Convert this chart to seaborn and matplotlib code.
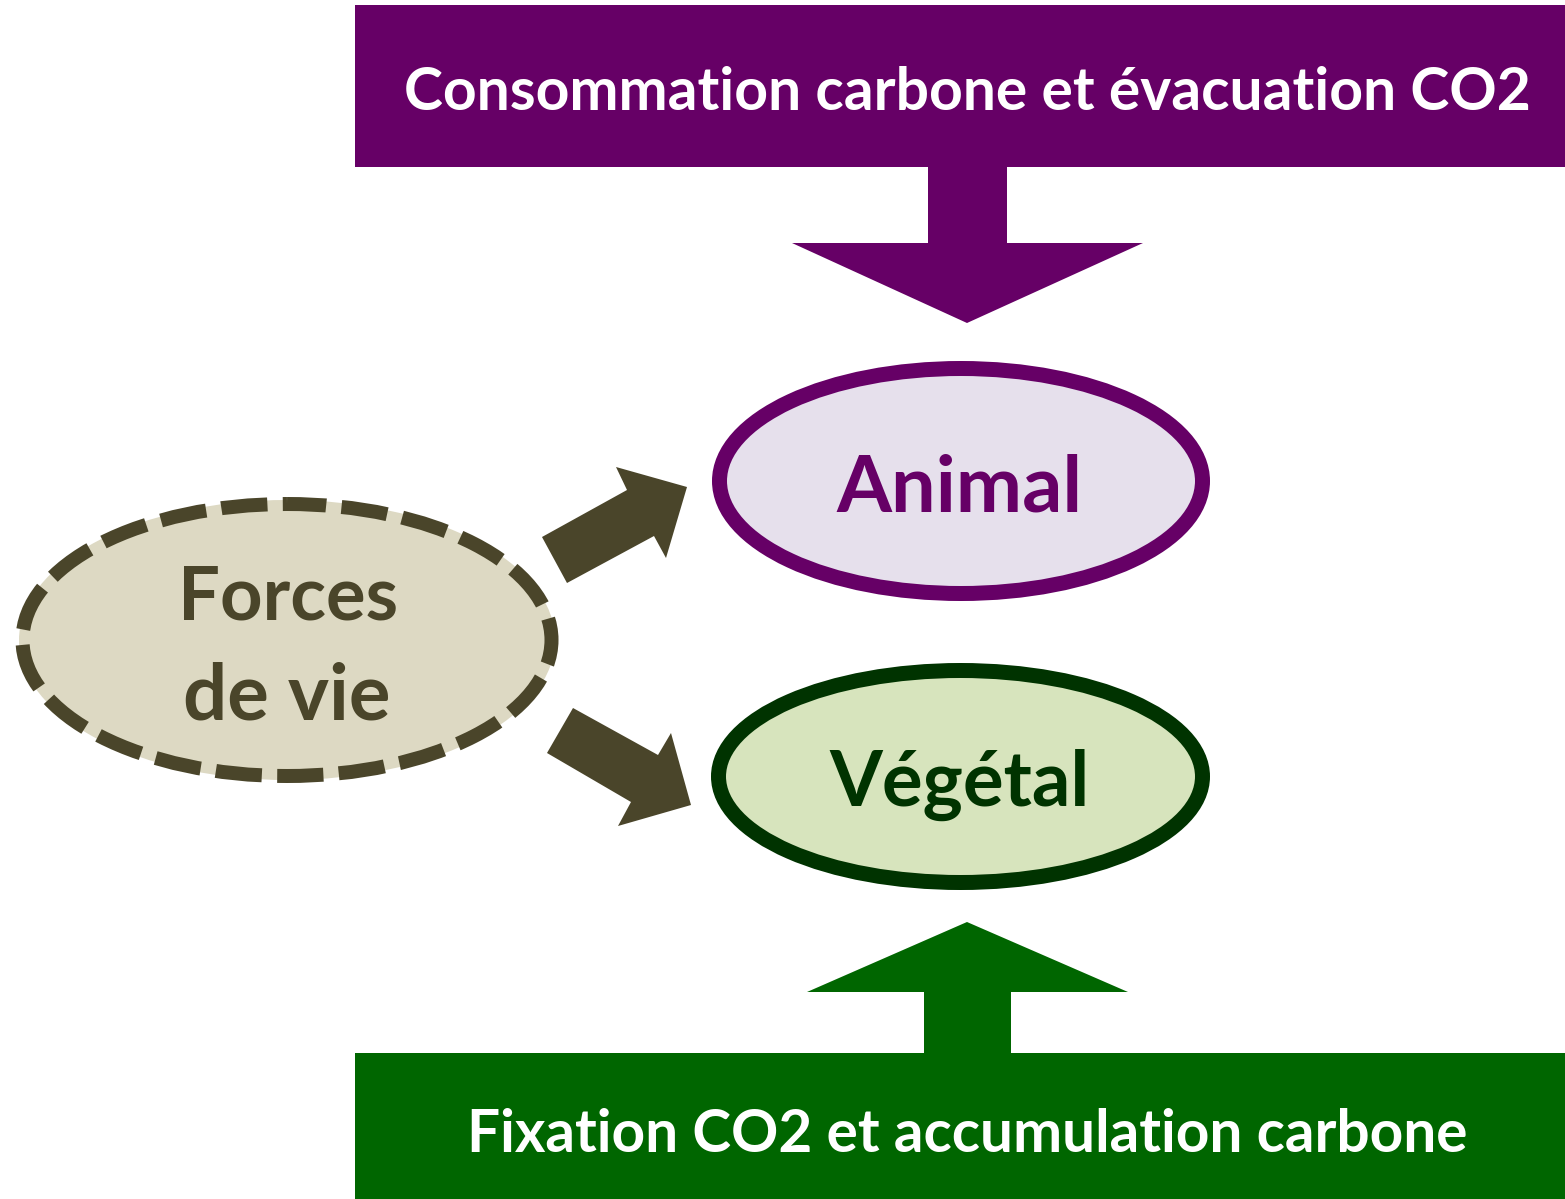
import matplotlib
matplotlib.use("Agg")
import matplotlib.pyplot as plt
from matplotlib.patches import Ellipse, Polygon, Rectangle
import seaborn as sns

sns.set_theme(style="white")
plt.rcParams["font.family"] = ["Lato", "DejaVu Sans"]

# ---- content ----
top_label = "Consommation carbone et évacuation CO2"
bottom_label = "Fixation CO2 et accumulation carbone"
node_labels = ["Animal", "Végétal"]
forces_lines = ["Forces", "de vie"]

PURPLE = "#660066"
PURPLE_FILL = "#E6E0EC"
GREEN_DARK = "#003300"
GREEN_FILL = "#D7E4BD"
GREEN_BOX = "#006600"
OLIVE = "#4A452A"
OLIVE_FILL = "#DDD9C3"

W, H = 1565, 1199
fig = plt.figure(figsize=(W / 100, H / 100), dpi=100)
ax = fig.add_axes([0, 0, 1, 1])
ax.set_xlim(0, W)
ax.set_ylim(H, 0)
ax.axis("off")

def px(v):
    return v * 72 / 100

# top box and arrow
ax.add_patch(Rectangle((355, 5), 1210, 162, facecolor=PURPLE, edgecolor="none"))
ax.add_patch(Polygon([(928, 160), (1007, 160), (1007, 243), (1143, 243), (967, 323),
                      (792, 243), (928, 243)], closed=True, facecolor=PURPLE, edgecolor="none"))

# bottom box and arrow
ax.add_patch(Rectangle((355, 1053), 1210, 150, facecolor=GREEN_BOX, edgecolor="none"))
ax.add_patch(Polygon([(924, 1060), (1011, 1060), (1011, 992), (1128, 992), (967, 922),
                      (807, 992), (924, 992)], closed=True, facecolor=GREEN_BOX, edgecolor="none"))

# Animal / Végétal ellipses
ax.add_patch(Ellipse((961, 481), 483, 225, facecolor=PURPLE_FILL, edgecolor=PURPLE, linewidth=px(15)))
ax.add_patch(Ellipse((960.5, 776.5), 484, 212, facecolor=GREEN_FILL, edgecolor=GREEN_DARK, linewidth=px(15)))

# Forces de vie dashed ellipse
ax.add_patch(Ellipse((287, 640), 536, 280, facecolor=OLIVE_FILL, edgecolor="none"))
ax.add_patch(Ellipse((287, 640), 529, 272, facecolor="none", edgecolor=OLIVE,
                     linewidth=px(14), linestyle=(0.5, (3.3, 1.1))))

# block arrows
ax.add_patch(Polygon([(542, 537), (627, 490), (616, 467), (687, 487), (666, 558), (654, 536), (567, 583)],
                     closed=True, facecolor=OLIVE, edgecolor="none"))
ax.add_patch(Polygon([(573, 708), (658, 755), (671, 733), (691, 805), (618, 826), (631, 802), (547, 753)],
                     closed=True, facecolor=OLIVE, edgecolor="none"))

# text with width fitting
renderer = fig.canvas.get_renderer()

def fit_text(s, xc, baseline, target_w, color, size0=40):
    t = ax.text(xc, baseline, s, ha="center", va="baseline", color=color,
                fontsize=size0, fontweight="bold")
    w = t.get_window_extent(renderer).width
    t.set_fontsize(size0 * target_w / w)
    return t

fit_text(top_label, 967, 110, 1127, "white")
fit_text(bottom_label, 967, 1152, 1001, "white")
fit_text(node_labels[0], 959, 511, 246, PURPLE)
fit_text(node_labels[1], 960, 806, 260, GREEN_DARK)
fit_text(forces_lines[0], 288, 620, 220, OLIVE)
fit_text(forces_lines[1], 287, 720, 207, OLIVE)

fig.savefig("out.png", dpi=100)
